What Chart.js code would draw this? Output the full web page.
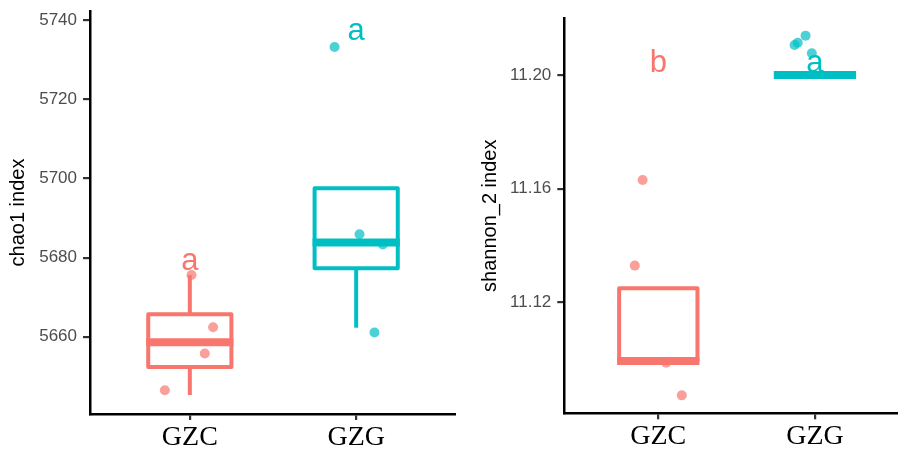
<!DOCTYPE html>
<html>
<head>
<meta charset="utf-8">
<script src="https://cdn.jsdelivr.net/npm/chart.js@4.4.0/dist/chart.umd.min.js"></script>
<style>
	html, body { margin: 0; padding: 0; background: #fff; }
	#wrap { position: relative; width: 898px; height: 452px; overflow: hidden; }
	.panel { position: absolute; top: 0; height: 452px; }
</style>
</head>
<body>
<div id="wrap">
	<div class="panel" style="left:0;width:456px"><canvas id="chaoChart" width="456" height="452"></canvas></div>
	<div class="panel" style="left:456px;width:442px"><canvas id="shannonChart" width="442" height="452"></canvas></div>
</div>
<script>
// Alpha diversity boxplots: chao1 and shannon_2

const groups = ['GZC', 'GZG'];
const lineColors = ['#F8766D', '#00BFC4'];
const dotColors = ['rgba(248,118,109,0.7)', 'rgba(0,191,196,0.7)'];

// chao1 panel
const chaoTicks = [5660, 5680, 5700, 5720, 5740];
const chaoGZCx = [1.01, 1.14, 1.09, 0.85];
const chaoGZC = [5675.6, 5662.4, 5655.8, 5646.5];
const chaoGZGx = [1.87, 2.02, 2.16, 2.11];
const chaoGZG = [5733.2, 5685.9, 5683.3, 5661.1];
const chaoQ1 = [5652.4, 5677.3];
const chaoMedian = [5658.6, 5683.8];
const chaoQ3 = [5665.7, 5697.5];
const chaoLow = [5645.3, 5662.3];
const chaoHigh = [5675.6, 5697.5];
const chaoLetters = ['a', 'a'];
const chaoLetterY = [5676.8, 5734.9];

// shannon_2 panel
const shanTicks = [11.12, 11.16, 11.20];
const shanGZCx = [0.90, 0.85, 1.05, 1.15];
const shanGZC = [11.1631, 11.133, 11.0989, 11.0874];
const shanGZGx = [1.87, 1.89, 1.94, 1.98];
const shanGZG = [11.2105, 11.2113, 11.2138, 11.2076];
const shanQ1 = [11.0995, 11.20];
const shanMedian = [11.0995, 11.20];
const shanQ3 = [11.125, 11.20];
const shanLow = [11.0995, 11.20];
const shanHigh = [11.125, 11.20];
const shanLetters = ['b', 'a'];
const shanLetterY = [11.2012, 11.2012];

function toPoints(xs, ys) {
	return ys.map((v, i) => ({ x: xs[i], y: v }));
}

function noPad(s) {
	s.paddingTop = 0;
	s.paddingBottom = 0;
	s.paddingLeft = 0;
	s.paddingRight = 0;
}

function makeBoxPlugin(stats) {
	return {
		id: 'boxes',
		afterDatasetsDraw(chart) {
			const { ctx, scales: { x, y } } = chart;
			ctx.save();
			groups.forEach((g, i) => {
				const x0 = x.getPixelForValue(i + 1 - 0.25);
				const x1 = x.getPixelForValue(i + 1 + 0.25);
				const xc = x.getPixelForValue(i + 1);
				const yq1 = y.getPixelForValue(stats.q1[i]);
				const yq3 = y.getPixelForValue(stats.q3[i]);
				const ymed = y.getPixelForValue(stats.median[i]);
				const ylo = y.getPixelForValue(stats.low[i]);
				const yhi = y.getPixelForValue(stats.high[i]);
				ctx.strokeStyle = lineColors[i];
				ctx.lineCap = 'butt';
				ctx.lineWidth = 4;
				// whiskers
				ctx.beginPath();
				ctx.moveTo(xc, yq3); ctx.lineTo(xc, yhi);
				ctx.moveTo(xc, yq1); ctx.lineTo(xc, ylo);
				ctx.stroke();
				// box
				ctx.lineJoin = 'round';
				ctx.strokeRect(x0, yq3, x1 - x0, yq1 - yq3);
				// median
				ctx.lineWidth = 8;
				ctx.beginPath();
				ctx.moveTo(x0 - 2, ymed); ctx.lineTo(x1 + 2, ymed);
				ctx.stroke();
				// letter
				ctx.fillStyle = lineColors[i];
				ctx.font = '31px "Liberation Sans", Arial, sans-serif';
				ctx.textAlign = 'center';
				ctx.textBaseline = 'alphabetic';
				ctx.fillText(stats.letters[i], xc, y.getPixelForValue(stats.letterY[i]));
			});
			ctx.restore();
		}
	};
}

function makeChart(id, cfg) {
	return new Chart(document.getElementById(id), {
		type: 'scatter',
		data: {
			datasets: [
				{ data: toPoints(cfg.xa, cfg.ya), backgroundColor: dotColors[0], borderWidth: 0, pointRadius: 5, pointHoverRadius: 5 },
				{ data: toPoints(cfg.xb, cfg.yb), backgroundColor: dotColors[1], borderWidth: 0, pointRadius: 5, pointHoverRadius: 5 }
			]
		},
		options: {
			responsive: false,
			animation: false,
			devicePixelRatio: 1,
			layout: { autoPadding: false, padding: { top: cfg.top, left: 0, right: 0, bottom: 0 } },
			plugins: { legend: { display: false }, tooltip: { enabled: false } },
			scales: {
				x: {
					type: 'linear',
					min: 0.4,
					max: cfg.xMax,
					afterBuildTicks: s => { s.ticks = [1, 2].map(v => ({ value: v })); },
					afterFit: s => { s.height = cfg.xHeight; noPad(s); },
					grid: { display: true, drawOnChartArea: false, drawTicks: true, tickLength: 6, color: '#333', lineWidth: 2.2 },
					border: { display: true, color: '#000', width: 2.5 },
					ticks: {
						callback: v => groups[v - 1],
						color: '#000',
						padding: 1,
						maxRotation: 0,
						font: { family: '"Liberation Serif", "Times New Roman", serif', size: 28 }
					}
				},
				y: {
					min: cfg.yMin,
					max: cfg.yMax,
					afterBuildTicks: s => { s.ticks = cfg.ticks.map(v => ({ value: v })); },
					afterFit: s => { s.width = cfg.yWidth; noPad(s); },
					grid: { display: true, drawOnChartArea: false, drawTicks: true, tickLength: 7, color: '#333', lineWidth: 2.2 },
					border: { display: true, color: '#000', width: 2.5 },
					title: {
						display: true,
						text: cfg.title,
						color: '#000',
						padding: { top: cfg.titlePad, bottom: 0 },
						font: { family: '"Liberation Sans", Arial, sans-serif', size: 20, weight: 'normal' }
					},
					ticks: {
						callback: cfg.fmt,
						color: '#4D4D4D',
						padding: 6,
						font: { family: '"Liberation Sans", Arial, sans-serif', size: 17 }
					}
				}
			}
		},
		plugins: [makeBoxPlugin(cfg.stats)]
	});
}

makeChart('chaoChart', {
	xa: chaoGZCx, ya: chaoGZC, xb: chaoGZGx, yb: chaoGZG,
	top: 11, xMax: 2.6, xHeight: 38, yWidth: 90,
	yMin: 5640.5, yMax: 5742.3, ticks: chaoTicks,
	title: 'chao1 index', titlePad: 6,
	fmt: v => String(v),
	stats: { q1: chaoQ1, median: chaoMedian, q3: chaoQ3, low: chaoLow, high: chaoHigh, letters: chaoLetters, letterY: chaoLetterY }
});

makeChart('shannonChart', {
	xa: shanGZCx, ya: shanGZC, xb: shanGZGx, yb: shanGZG,
	top: 18.3, xMax: 2.53, xHeight: 38.7, yWidth: 108.3,
	yMin: 11.0811, yMax: 11.2199, ticks: shanTicks,
	title: 'shannon_2 index', titlePad: 22,
	fmt: v => v.toFixed(2),
	stats: { q1: shanQ1, median: shanMedian, q3: shanQ3, low: shanLow, high: shanHigh, letters: shanLetters, letterY: shanLetterY }
});
</script>
</body>
</html>
